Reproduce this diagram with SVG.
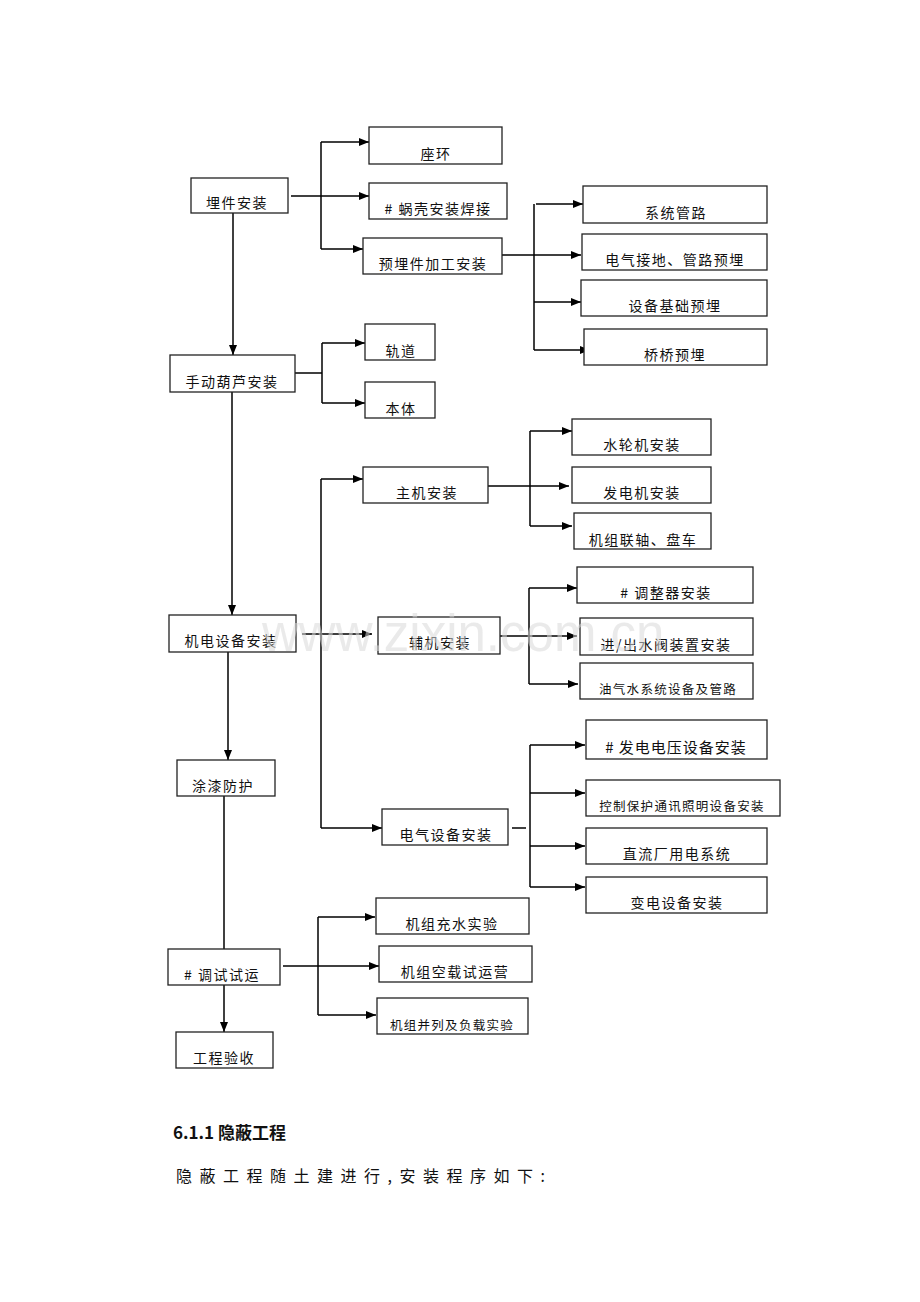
<svg xmlns="http://www.w3.org/2000/svg" width="920" height="1302" viewBox="0 0 920 1302">
<defs>
<marker id="ah" markerWidth="10" markerHeight="8" refX="10" refY="4" orient="auto" markerUnits="userSpaceOnUse">
<path d="M0,0 L10,4 L0,8 Z" fill="#000"/>
</marker>
<style>
.box{fill:#fff;stroke:#222;stroke-width:1.3}
.t{font-family:"Noto Sans CJK SC","Liberation Serif",serif;font-size:14px;letter-spacing:1.5px;fill:#111;text-anchor:middle}
.s{font-size:12.5px;letter-spacing:1.3px}
.b{font-size:15px;letter-spacing:1px}
.c{fill:none;stroke:#000;stroke-width:1.5}
.a{marker-end:url(#ah)}
.wm{font-family:"Liberation Sans",Arial,sans-serif;font-size:51px;fill:#d8d8d8;fill-opacity:0.55}
</style>
</defs>
<rect width="920" height="1302" fill="#fff"/>
<g id="connectors">
<path class="c a" d="M291,196 H369"/>
<path class="c" d="M321,142 V249"/>
<path class="c a" d="M321,142 H369"/>
<path class="c a" d="M321,249 H363"/>
<path class="c a" d="M233,213 V355"/>
<path class="c a" d="M502,255 H581"/>
<path class="c" d="M534,204 V350"/>
<path class="c a" d="M536,204 H583"/>
<path class="c a" d="M534,302 H581"/>
<path class="c a" d="M534,350 H590"/>
<path class="c" d="M295,373 H322"/>
<path class="c" d="M322,343 V403"/>
<path class="c a" d="M322,343 H365"/>
<path class="c a" d="M322,403 H365"/>
<path class="c a" d="M232,392 V615"/>
<path class="c a" d="M302,634 H372"/>
<path class="c" d="M321,479 V828"/>
<path class="c a" d="M321,479 H363"/>
<path class="c a" d="M321,828 H382"/>
<path class="c a" d="M488,486 H569"/>
<path class="c" d="M530,431 V526"/>
<path class="c a" d="M530,431 H572"/>
<path class="c a" d="M530,526 H572"/>
<path class="c a" d="M500,636 H577"/>
<path class="c" d="M529,588 V684"/>
<path class="c a" d="M529,588 H577"/>
<path class="c a" d="M529,684 H578"/>
<path class="c" d="M512,828 H526"/>
<path class="c" d="M530,745 V887"/>
<path class="c a" d="M530,745 H585"/>
<path class="c a" d="M530,793 H585"/>
<path class="c a" d="M530,846 H585"/>
<path class="c a" d="M530,887 H585"/>
<path class="c a" d="M228,652 V760"/>
<path class="c" d="M224,796 V949"/>
<path class="c a" d="M283,966 H379"/>
<path class="c" d="M318,917 V1015"/>
<path class="c a" d="M318,917 H375"/>
<path class="c a" d="M318,1015 H376"/>
<path class="c a" d="M224,985 V1032"/>
</g>
<g id="n1"><rect class="box" x="191" y="178" width="97" height="35"/><text class="t" x="237" y="208">埋件安装</text></g>
<g id="n2"><rect class="box" x="369" y="127" width="133" height="37"/><text class="t" x="436" y="159">座环</text></g>
<g id="n3"><rect class="box" x="369" y="183" width="138" height="36"/><text class="t" x="438" y="214"># 蜗壳安装焊接</text></g>
<g id="n4"><rect class="box" x="363" y="238" width="139" height="36"/><text class="t" x="433" y="269">预埋件加工安装</text></g>
<g id="n5"><rect class="box" x="583" y="186" width="184" height="37"/><text class="t" x="676" y="218">系统管路</text></g>
<g id="n6"><rect class="box" x="582" y="234" width="185" height="36"/><text class="t" x="675" y="265">电气接地、管路预埋</text></g>
<g id="n7"><rect class="box" x="581" y="280" width="186" height="36"/><text class="t" x="675" y="311">设备基础预埋</text></g>
<g id="n8"><rect class="box" x="584" y="329" width="183" height="36"/><text class="t" x="675" y="360">桥桥预埋</text></g>
<g id="n9"><rect class="box" x="170" y="355" width="125" height="37"/><text class="t" x="232" y="387">手动葫芦安装</text></g>
<g id="n10"><rect class="box" x="365" y="324" width="70" height="36"/><text class="t" x="401" y="356">轨道</text></g>
<g id="n11"><rect class="box" x="365" y="382" width="70" height="36"/><text class="t" x="401" y="414">本体</text></g>
<g id="n12"><rect class="box" x="363" y="467" width="125" height="36"/><text class="t" x="427" y="498">主机安装</text></g>
<g id="n13"><rect class="box" x="572" y="419" width="139" height="36"/><text class="t" x="642" y="450">水轮机安装</text></g>
<g id="n14"><rect class="box" x="572" y="467" width="139" height="36"/><text class="t" x="642" y="498">发电机安装</text></g>
<g id="n15"><rect class="box" x="574" y="513" width="137" height="36"/><text class="t" x="643" y="545">机组联轴、盘车</text></g>
<g id="n16"><rect class="box" x="169" y="615" width="127" height="37"/><text class="t" x="231" y="646">机电设备安装</text></g>
<g id="n17"><rect class="box" x="378" y="617" width="122" height="37"/><text class="t" x="440" y="648">辅机安装</text></g>
<g id="n18"><rect class="box" x="577" y="567" width="176" height="36"/><text class="t" x="666" y="598"># 调整器安装</text></g>
<g id="n19"><rect class="box" x="580" y="618" width="173" height="37"/><text class="t" x="666" y="650">进/出水阀装置安装</text></g>
<g id="n20"><rect class="box" x="580" y="663" width="173" height="36"/><text class="t s" x="668" y="694">油气水系统设备及管路</text></g>
<g id="n21"><rect class="box" x="177" y="760" width="98" height="36"/><text class="t" x="223" y="791">涂漆防护</text></g>
<g id="n22"><rect class="box" x="382" y="809" width="126" height="36"/><text class="t" x="446" y="840">电气设备安装</text></g>
<g id="n23"><rect class="box" x="586" y="720" width="181" height="39"/><text class="t b" x="676" y="753"># 发电电压设备安装</text></g>
<g id="n24"><rect class="box" x="586" y="780" width="194" height="36"/><text class="t s" x="682" y="811">控制保护通讯照明设备安装</text></g>
<g id="n25"><rect class="box" x="586" y="828" width="181" height="36"/><text class="t" x="677" y="859">直流厂用电系统</text></g>
<g id="n26"><rect class="box" x="586" y="877" width="181" height="36"/><text class="t" x="677" y="908">变电设备安装</text></g>
<g id="n27"><rect class="box" x="168" y="949" width="112" height="36"/><text class="t" x="222" y="980"># 调试试运</text></g>
<g id="n28"><rect class="box" x="376" y="898" width="153" height="36"/><text class="t" x="452" y="929">机组充水实验</text></g>
<g id="n29"><rect class="box" x="379" y="946" width="153" height="36"/><text class="t" x="455" y="977">机组空载试运营</text></g>
<g id="n30"><rect class="box" x="377" y="998" width="151" height="36"/><text class="t s" x="452" y="1030">机组并列及负载实验</text></g>
<g id="n31"><rect class="box" x="176" y="1032" width="97" height="36"/><text class="t" x="224" y="1063">工程验收</text></g>
<text x="173" y="1139" font-family="'Noto Sans CJK SC','Liberation Serif',serif" font-size="17" font-weight="bold" fill="#111">6.1.1 隐蔽工程</text>
<text x="176" y="1182" font-family="'Noto Sans CJK SC','Liberation Serif',serif" font-size="16" letter-spacing="7.5" fill="#111">隐蔽工程随土建进行,安装程序如下:</text>
<text class="wm" x="262" y="651">www.zixin.com.cn</text>
</svg>
